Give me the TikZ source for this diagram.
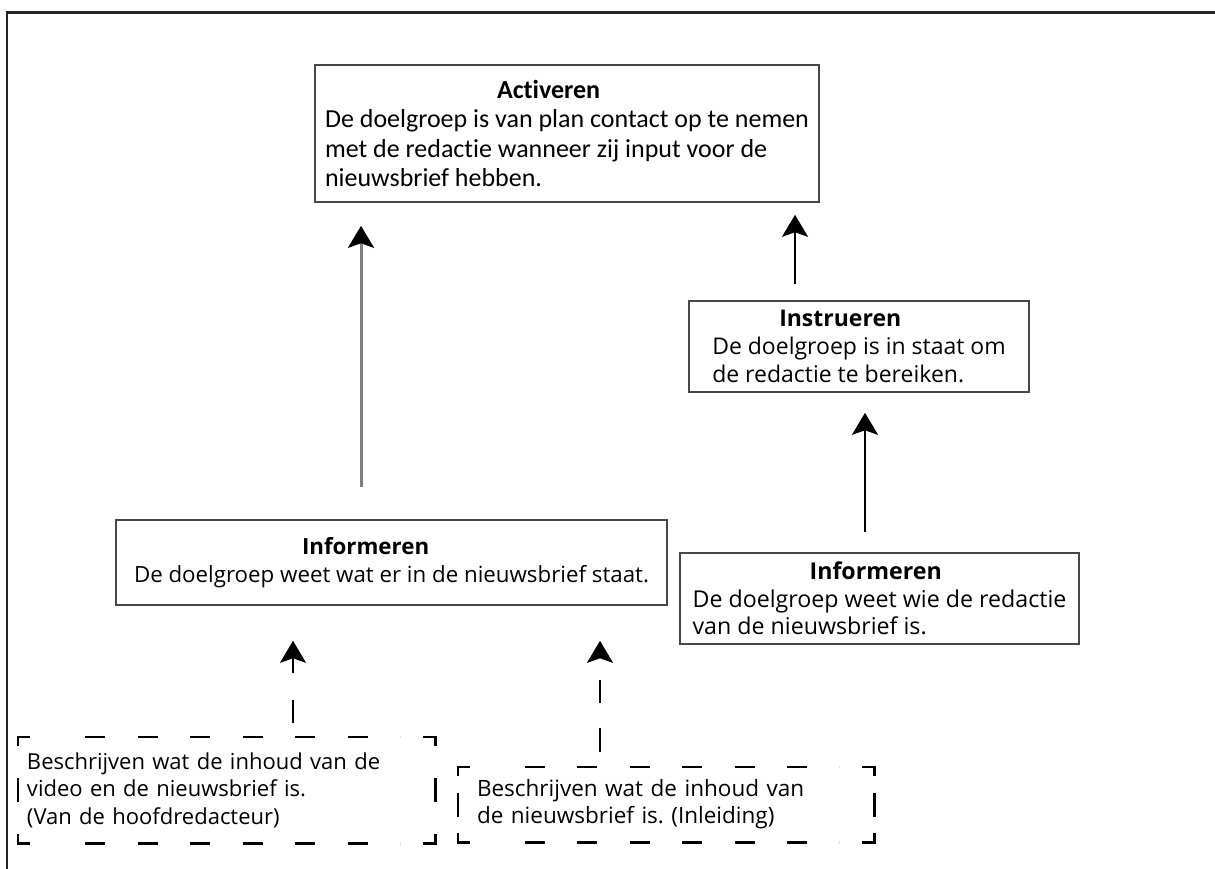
\documentclass[tikz,border=0pt]{standalone}
\usepackage{fontspec}
\setmainfont{Open Sans}
\newfontfamily\actfont[Ligatures=NoCommon]{Carlito}
\usetikzlibrary{arrows.meta,decorations}
\frenchspacing

\tikzset{
  box/.style={draw=black!72, line width=1.6pt, inner sep=0pt, align=left},
  openbox/.style={inner sep=0pt, align=left},
  tip/.style={-{Stealth[length=22pt,width=26pt,inset=4.5pt,color=black]}},
  grayflow/.style={tip, draw=black!50, line width=3pt},
  flow/.style={tip, draw=black, line width=2.2pt},
  dashflow/.style={tip, draw=black, line width=2pt},
  frameline/.style={draw=black!85, line width=2.6pt},
  dashedge/.style={draw=black, line width=2.6pt},
}

% corner pieces plus evenly spread dashes along each side of a node
\newcommand\dashedframe[1]{%
  \draw[dashedge] ([yshift=-9pt]#1.north west) -- (#1.north west) -- ([xshift=12pt]#1.north west);
  \draw[dashedge] ([xshift=-12pt]#1.north east) -- (#1.north east) -- ([yshift=-9pt]#1.north east);
  \draw[dashedge] ([yshift=9pt]#1.south west) -- (#1.south west) -- ([xshift=12pt]#1.south west);
  \draw[dashedge] ([xshift=-12pt]#1.south east) -- (#1.south east) -- ([yshift=9pt]#1.south east);
  \draw[dashedge, dash pattern=on 20pt off 27pt, dash expand off]
    ([xshift=35pt]#1.north west) -- ([xshift=-35pt]#1.north east);
  \draw[dashedge, dash pattern=on 20pt off 27pt, dash expand off]
    ([xshift=35pt]#1.south west) -- ([xshift=-35pt]#1.south east);
  \draw[dashedge] ([yshift=12pt]#1.west) -- ([yshift=-12pt]#1.west);
  \draw[dashedge] ([yshift=12pt]#1.east) -- ([yshift=-12pt]#1.east);
}

\begin{document}
\begin{tikzpicture}[x=1pt, y=-1pt]
\useasboundingbox (0,0) rectangle (1215,869);

% outer frame (top and left edges)
\draw[frameline] (7,869) -- (7,12.5) -- (1216,12.5);

% goal boxes
\node[box, minimum width=504pt, minimum height=137pt,
      font=\actfont\fontsize{26}{29.5}\selectfont] (act) at (567,133.5)
  {\hspace*{172pt}\textbf{Activeren}\\
   De doelgroep is van plan contact op te nemen\\
   met de redactie wanneer zij input voor de\\
   nieuwsbrief hebben.};

\node[box, minimum width=340pt, minimum height=91pt,
      font=\fontsize{23}{28}\selectfont] (instr) at (859,346.5)
  {\hspace*{67pt}\textbf{Instrueren}\\
   De doelgroep is in staat om\\
   de redactie te bereiken.};

\node[box, minimum width=551pt, minimum height=85pt,
      font=\fontsize{22.3}{28}\selectfont] (inf1) at (391.5,562.5)
  {\hspace*{168pt}\textbf{Informeren}\\
   De doelgroep weet wat er in de nieuwsbrief staat.};

\node[box, minimum width=399pt, minimum height=91pt,
      font=\fontsize{23.2}{27.5}\selectfont] (inf2) at (879.5,598.5)
  {\hspace*{117pt}\textbf{Informeren}\\
   De doelgroep weet wie de redactie\\
   van de nieuwsbrief is.};

% means (dashed boxes)
\node[openbox, text width=399pt, inner xsep=9pt, minimum height=106pt,
      font=\fontsize{22}{27.5}\selectfont] (d1) at (226.5,790)
  {Beschrijven wat de inhoud van de\\
   video en de nieuwsbrief is.\\
   (Van de hoofdredacteur)};
\dashedframe{d1}

\node[openbox, text width=378pt, inner xsep=19pt, minimum height=75pt,
      font=\fontsize{22.5}{27}\selectfont] (d2) at (666,804.5)
  {Beschrijven wat de inhoud van\\
   de nieuwsbrief is. (Inleiding)};
\dashedframe{d2}

% connectors
\draw[grayflow, shorten <=32pt, shorten >=23pt] (361,0 |- inf1.north) -- (361,0 |- act.south);
\draw[flow, shorten <=16pt, shorten >=12pt] (795,0 |- instr.north) -- (795,0 |- act.south);
\draw[flow, shorten <=20pt, shorten >=20pt] (865,0 |- inf2.north) -- (865,0 |- instr.south);

\draw[dashflow, line width=1.6pt, dash pattern=on 0pt off 14pt on 23pt off 27pt on 80pt,
      shorten >=35pt] (293,0 |- d1.north) -- (293,0 |- inf1.south);
\draw[dashflow, line width=2.4pt, dash pattern=on 0pt off 15pt on 24pt off 25pt on 23pt off 60pt,
      shorten >=35pt] (600,0 |- d2.north) -- (600,0 |- inf1.south);
\end{tikzpicture}
\end{document}
